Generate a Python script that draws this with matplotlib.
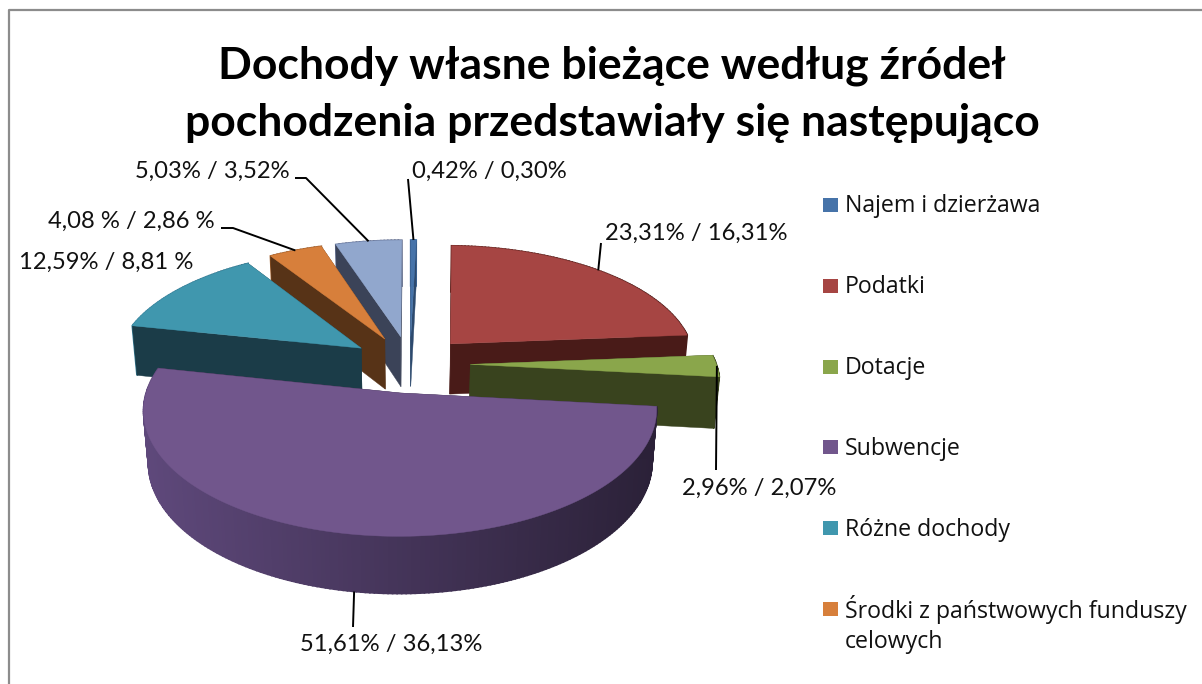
import numpy as np
import matplotlib
matplotlib.use("Agg")
import matplotlib.pyplot as plt
from matplotlib.patches import Polygon, Rectangle

title = "Dochody własne bieżące według źródeł\npochodzenia przedstawiały się następująco"
names = ["Najem i dzierżawa", "Podatki", "Dotacje", "Subwencje", "Różne dochody",
         "Środki z państwowych funduszy\ncelowych"]
shares = [0.42, 23.31, 2.96, 51.61, 12.59, 4.08, 5.03]
labels = ["0,42% / 0,30%", "23,31% / 16,31%", "2,96% / 2,07%", "51,61% / 36,13%",
          "12,59% / 8,81 %", "4,08 % / 2,86 %", "5,03% / 3,52%"]
top_cols = ["#4673a9", "#a64543", "#8aa64b", "#71568c", "#4097ae", "#d77f3b", "#91a7cd"]
side_cols = ["#2d4a6e", "#491b18", "#39431e", "#2b2138", "#1b3c48", "#573317", "#3b4358"]

# layout, in pixels of the 1202x684 picture
label_pos = [(412, 171), (605, 233), (682, 488), (300, 644), (19, 262), (48, 221), (135, 171)]
elbows = [[(408, 179)], [(601, 243)], [(716, 470)], [(353, 627)], None,
          [(233, 228), (221, 228)], [(306, 178), (295, 178)]]
cx, cy = 410, 364
a, b = 246, 116
k, kz, depth = 0.132, 0.018, 52
explode = 0.245


def project(u, v, z=0):
    s = 1 / (1 + k * v + kz * z)
    return cx + a * u * s, cy - b * v * s + depth * z * s


fig = plt.figure(figsize=(12.02, 6.84), dpi=100)
ax = fig.add_axes([0, 0, 1, 1])
ax.set_xlim(0, 1202)
ax.set_ylim(684, 0)
ax.axis("off")

ax.plot([9, 9, 1202], [684, 10, 10], color="#8c8c8c", lw=1.6)

edges = np.cumsum([0] + shares) / sum(shares) * 2 * np.pi
mids = (edges[:-1] + edges[1:]) / 2


def shade(x, dark):
    # walls get darker to the right, as in the office 3D look
    t = np.clip((x - 142) / 513, 0, 1)
    c0 = np.array(matplotlib.colors.to_rgb(dark))
    return np.clip(c0 * (2.2 - 1.2 * t), 0, 1)


# painted from the back to the front
order = [1, 0, 6, 5, 4, 2, 3]
for i in order:
    ox = explode * np.sin(mids[i])
    oy = explode * np.cos(mids[i])
    th = np.linspace(edges[i], edges[i + 1], max(int(shares[i] * 4), 6))
    us = ox + np.sin(th)
    vs = oy + np.cos(th)

    # outer wall
    for j in range(len(th) - 1):
        quad = [project(us[j], vs[j]), project(us[j + 1], vs[j + 1]),
                project(us[j + 1], vs[j + 1], 1), project(us[j], vs[j], 1)]
        col = shade(quad[0][0], side_cols[i])
        ax.add_patch(Polygon(quad, fc=col, ec=col, lw=1.2))

    # the two cut faces, the far one first
    ends = sorted([0, -1], key=lambda e: vs[e], reverse=True)
    for e in ends:
        quad = [project(ox, oy), project(us[e], vs[e]),
                project(us[e], vs[e], 1), project(ox, oy, 1)]
        ax.add_patch(Polygon(quad, fc=side_cols[i], ec=side_cols[i], lw=0.3))

    pts = [project(ox, oy)] + [project(p, q) for p, q in zip(us, vs)]
    ax.add_patch(Polygon(pts, fc=top_cols[i], ec=top_cols[i], lw=0.3))

# labels and leader lines
for i, txt in enumerate(labels):
    ax.text(label_pos[i][0], label_pos[i][1], txt, fontsize=17.1, family="Lato",
            color="#111111", va="center", ha="left")
    if elbows[i] is None:
        continue
    ox = (explode + 1) * np.sin(mids[i])
    oy = (explode + 1) * np.cos(mids[i])
    start = project(ox, oy, 1 if i == 3 else 0)
    line = [start] + elbows[i]
    ax.plot([p[0] for p in line], [p[1] for p in line], color="black", lw=1.4,
            solid_capstyle="butt", zorder=5)

# legend
for i, name in enumerate(names):
    y = 205 + i * 80.8
    ax.add_patch(Rectangle((823, y - 7), 15, 14, fc=top_cols[i], ec="none"))
    two_lines = "\n" in name
    ax.text(845, y - 14 if two_lines else y + 1.5, name, fontsize=16.7, family="Open Sans",
            color="#111111", va="top" if two_lines else "center", ha="left",
            linespacing=1.33)

ax.text(612, 94, title, fontsize=32, family="Lato", weight="bold", color="black",
        ha="center", va="center", linespacing=1.5)

fig.savefig("out.png", dpi=100)
